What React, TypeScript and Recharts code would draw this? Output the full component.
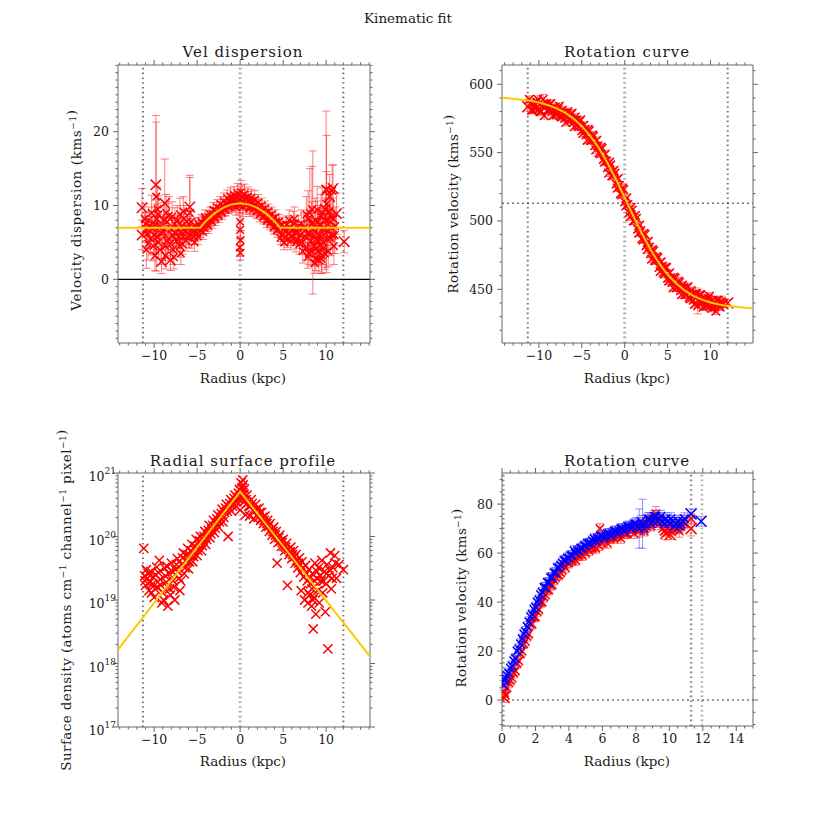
import React from "react";
import { ScatterChart, Scatter, XAxis, YAxis, ErrorBar, ReferenceLine } from "recharts";

const FONT = "'DejaVu Serif', serif";
const AXIS = "#666";
const TEXT = "#1a1a1a";
const RED = "#ff0000";
const RED_ERR = "#ff2a2a";
const BLUE = "#0000ff";
const BLUE_ERR = "#3a3aff";
const GOLD = "#ffc800";

// ---------- Panel 1: velocity dispersion [radius, sigma, err] ----------
const dispPoints = [
  [-11.0,7.5,1.5],[-10.9,4.0,2.5],[-10.8,6.2,2.0],[-10.6,8.0,1.8],[-10.4,5.5,2.2],[-10.2,7.0,1.5],[-10.0,6.0,2.5],[-9.9,3.2,2.0],[-9.75,11.2,10.1],[-9.7,8.2,2.0],
  [-9.6,9.5,3.0],[-9.5,5.0,2.2],[-9.3,7.2,1.6],[-9.0,6.5,2.0],[-8.7,4.5,2.0],[-8.6,9.0,2.5],[-8.5,7.8,2.5],[-8.3,5.5,1.8],[-8.0,6.8,1.5],[-7.9,8.5,2.0],
  [-7.8,4.0,2.0],[-7.6,7.5,2.2],[-7.4,5.2,1.5],[-7.2,6.8,1.8],[-7.0,4.5,1.5],[-7.0,8.8,2.2],[-6.9,3.5,1.5],[-6.8,7.2,1.6],[-6.6,5.8,1.4],[-6.6,9.2,2.0],
  [-6.4,6.5,1.2],[-6.2,7.8,1.5],[-6.0,5.6,1.3],[-5.85,9.0,4.8],[-5.6,6.8,1.2],[-5.4,5.8,1.0],[-5.2,7.2,1.1],[-5.0,6.2,1.0],[-4.8,7.4,1.0],[-4.6,6.6,0.9],
  [-4.4,7.6,1.0],[-4.2,7.0,0.8],[-4.0,8.0,0.9],[-3.8,7.4,0.9],[-3.6,8.4,0.9],[-3.4,8.0,0.8],[-3.2,8.8,0.9],[-3.0,8.4,0.8],[-2.8,9.2,0.9],[-2.6,8.8,0.8],
  [-2.4,9.6,0.9],[-2.2,9.2,0.8],[-2.0,9.9,0.9],[-1.8,9.4,0.8],[-1.6,10.3,0.9],[-1.4,9.8,0.8],[-1.2,10.6,1.0],[-1.0,10.0,0.9],[-0.8,10.8,1.0],[-0.6,10.2,0.9],
  [-0.4,11.0,1.2],[-0.2,10.4,1.0],[0.0,7.8,1.2],[0.0,6.7,1.2],[0.05,5.3,1.3],[-0.05,4.3,1.2],[0.02,3.6,1.0],[0.0,10.8,1.8],[0.2,11.2,1.6],[0.4,10.5,1.2],
  [0.6,10.9,1.3],[0.8,10.2,1.1],[1.0,10.7,1.2],[1.2,9.9,1.0],[1.4,10.4,1.1],[1.6,9.6,1.0],[1.8,10.1,1.0],[2.0,9.3,0.9],[2.2,9.8,1.0],[2.4,9.0,0.9],
  [2.6,9.4,0.9],[2.8,8.6,0.9],[3.0,9.0,0.9],[3.2,8.2,0.8],[3.4,8.6,0.9],[3.6,7.8,0.8],[3.8,8.2,0.9],[4.0,7.2,0.8],[4.2,7.8,0.9],[4.4,6.8,0.8],
  [4.6,7.2,0.9],[4.8,6.0,0.9],[5.0,6.8,1.0],[5.2,5.6,1.0],[5.4,7.4,1.2],[5.6,6.2,1.1],[5.8,7.0,1.4],[6.0,5.8,1.2],[6.2,7.6,1.6],[6.4,6.4,1.3],
  [6.6,5.4,1.2],[6.8,7.2,1.5],[7.0,6.0,1.4],[7.2,5.0,1.5],[7.4,7.0,2.0],[7.6,4.2,1.6],[7.8,6.2,2.0],[7.9,8.2,3.8],[8.0,3.5,1.5],[8.1,9.0,6.0],
  [8.2,5.2,2.2],[8.3,7.5,3.0],[8.45,7.7,9.7],[8.6,4.5,2.0],[8.7,6.5,2.5],[8.8,2.8,1.6],[8.9,5.5,2.4],[9.0,7.8,2.8],[9.1,3.8,2.0],[9.2,6.0,2.2],
  [9.3,4.6,2.5],[9.4,8.5,3.0],[9.5,3.2,2.4],[9.6,6.8,2.6],[9.7,5.0,2.0],[10.0,12.2,10.6],[10.05,10.2,9.3],[10.1,5.5,2.0],[10.2,8.0,2.8],[10.6,7.0,2.4],
  [10.7,12.0,3.5],[10.9,4.5,2.5],[11.0,6.0,2.5],
];
const dispPoints2 = [
  [-11.1,8.2,2.0],[-10.9,6.8,1.8],[-10.7,4.8,2.2],[-10.5,7.2,2.0],[-10.3,9.0,2.4],[-10.1,4.5,2.0],[-9.9,7.5,2.2],[-9.7,5.8,1.8],[-9.5,8.8,2.5],[-9.3,4.0,2.0],
  [-9.1,6.2,2.2],[-8.9,8.0,2.4],[-8.7,3.2,1.8],[-8.5,5.2,2.0],[-8.3,8.6,2.6],[-8.1,4.8,1.8],[-7.9,6.0,2.0],[-7.7,3.0,1.6],[-7.5,6.2,1.8],[-7.3,8.0,2.0],
  [-7.1,5.8,1.6],[-6.9,6.4,1.8],[-6.7,4.8,1.4],[-6.5,8.2,1.8],[-6.3,5.2,1.4],[-6.1,7.0,1.5],[-5.9,6.0,1.3],[-5.7,7.8,1.4],[-5.5,6.4,1.2],[-5.3,5.0,1.2],
  [-5.1,6.8,1.1],[-4.9,5.8,1.1],[-4.7,7.0,1.0],[-4.5,7.8,1.0],[-4.3,6.4,1.0],[-4.1,8.4,1.0],[-3.9,7.6,0.9],[-3.7,7.2,1.0],[-3.5,8.8,1.0],[-3.3,7.8,0.9],
  [-3.1,9.4,1.0],[-2.9,8.2,0.9],[-2.7,9.8,1.0],[-2.5,8.6,0.9],[-2.3,10.2,1.0],[-2.1,9.0,0.9],[-1.9,10.6,1.1],[-1.7,9.6,1.0],[-1.5,11.0,1.1],[-1.3,9.9,1.0],
  [-1.1,11.2,1.2],[-0.9,10.2,1.0],[-0.7,11.4,1.2],[-0.5,9.8,1.1],[-0.3,11.6,1.4],[-0.1,10.0,1.3],[0.1,11.8,1.6],[0.3,9.8,1.3],[0.5,11.5,1.4],[0.7,10.0,1.2],
  [0.9,11.2,1.3],[1.1,9.6,1.1],[1.3,11.0,1.2],[1.5,9.9,1.1],[1.7,10.8,1.2],[1.9,9.2,1.0],[2.1,10.4,1.1],[2.3,8.8,1.0],[2.5,10.0,1.0],[2.7,8.4,0.9],
  [2.9,9.6,1.0],[3.1,7.9,0.9],[3.3,9.2,1.0],[3.5,7.6,0.9],[3.7,8.8,1.0],[3.9,7.0,0.9],[4.1,8.4,1.0],[4.3,6.6,0.9],[4.5,7.8,1.0],[4.7,5.6,0.9],
  [4.9,7.4,1.0],[5.1,5.0,1.0],[5.3,6.6,1.1],[5.5,5.4,1.1],[5.7,8.0,1.4],[5.9,5.2,1.2],[6.1,6.6,1.4],[6.3,8.2,1.6],[6.5,5.0,1.3],[6.7,6.4,1.4],
  [6.9,4.8,1.4],[7.1,7.6,1.8],[7.3,3.8,1.6],[7.5,5.8,1.8],[7.7,8.8,2.4],[7.85,3.0,1.5],[8.05,6.2,2.2],[8.25,3.8,2.0],[8.35,9.5,5.8],[8.55,5.8,2.4],
  [8.65,2.2,1.4],[8.75,8.0,3.0],[8.85,4.2,2.2],[8.95,9.4,3.2],[9.05,5.2,2.4],[9.15,2.6,1.6],[9.25,7.4,2.6],[9.35,5.8,2.4],[9.45,2.8,2.0],[9.55,9.0,3.4],
  [9.65,4.2,2.2],[9.75,7.0,2.6],[9.85,3.5,2.2],[9.95,8.0,3.0],[10.15,6.5,2.4],[10.25,3.8,2.0],[10.35,9.2,3.0],[10.45,5.6,2.4],[10.55,8.5,3.2],[10.75,6.0,2.5],
  [10.85,8.2,2.8],[11.05,7.2,2.6],
];
const dispOutliers = [
  [-11.4,9.7,2.6],[-11.4,6.0,2.0],[-9.8,12.8,9.4],[-9.14,2.4,1.6],[-8.1,2.6,1.4],[-8.76,10.3,6.0],[-5.85,9.8,4.3],
  [10.05,12.1,2.5],[10.8,12.3,3.2],[10.4,11.2,3.0],[11.2,8.9,2.8],[12.1,5.1,1.5],[9.9,9.5,3.0],
];
const dispFitX = [-14.2, -4.65, -4, -3, -2, -1, 0, 1, 2, 3, 4, 4.65, 15.1];
const dispFitY = [7.0, 7.0, 7.86, 8.93, 9.69, 10.15, 10.3, 10.15, 9.69, 8.93, 7.86, 7.0, 7.0];
const dispMarks = [-11.3, 12.0];
const centreMark = [0];

// ---------- Panel 2: rotation curve (both sides) [radius, v, err] ----------
const rotPoints = [
  [-11.0,586,2.5],[-10.75,581,2.5],[-10.5,584,2.5],[-10.25,587,2.5],[-10.0,582,2.5],[-9.75,580,2.5],[-9.5,589,3.5],[-9.25,584,2.5],[-9.0,581,2.5],[-8.75,585,2.5],
  [-8.5,580,2.5],[-8.25,583,2.5],[-8.0,578,2.5],[-7.75,582,2.5],[-7.5,577,2.5],[-7.25,581,2.5],[-7.0,575,2.5],[-6.75,579,2.5],[-6.5,574,2.5],[-6.25,578,2.5],
  [-6.0,572,2.5],[-5.75,576,2.5],[-5.5,570,2.5],[-5.25,573,2.5],[-5.0,566,2.5],[-4.75,570,2.5],[-4.5,563,2.5],[-4.25,567,2.5],[-4.0,559,2.5],[-3.75,563,2.5],
  [-3.5,555,2.5],[-3.25,559,2.5],[-3.0,550,2.5],[-2.75,554,2.5],[-2.5,545,2.5],[-2.25,549,2.5],[-2.0,539,2.5],[-1.75,543,2.5],[-1.5,533,2.5],[-1.25,537,2.5],
  [-1.0,527,2.5],[-0.75,531,2.5],[-0.5,520,2.5],[-0.25,524,2.5],[0.0,514,2.5],[0.25,517,2.5],[0.5,506,2.5],[0.75,510,2.5],[1.0,500,2.5],[1.25,504,2.5],
  [1.5,494,2.5],[1.75,497,2.5],[2.0,487,2.5],[2.25,491,2.5],[2.5,482,2.5],[2.75,485,2.5],[3.0,476,2.5],[3.25,479,2.5],[3.5,471,2.5],[3.75,474,2.5],
  [4.0,466,2.5],[4.25,470,2.5],[4.5,462,2.5],[4.75,466,2.5],[5.0,458,2.5],[5.25,462,2.5],[5.5,455,2.5],[5.75,459,2.5],[6.0,451,2.5],[6.25,456,2.5],
  [6.5,449,2.5],[6.75,453,2.5],[7.0,446,2.5],[7.25,451,2.5],[7.5,444,2.5],[7.75,449,2.5],[8.0,442,2.5],[8.25,447,4.0],[8.5,438,6.0],[8.75,446,2.5],
  [9.0,440,2.5],[9.25,444,2.5],[9.5,438,2.5],[9.75,443,2.5],[10.0,438,2.5],[10.25,442,2.5],[10.5,437,2.5],[10.75,442,2.5],[11.0,438,2.5],[11.25,441,4.0],
  [11.5,439,2.5],
];
const rotPoints2 = [
  [-11.125,589,2.5],[-10.875,581,2.5],[-10.625,586,2.5],[-10.375,582,2.5],[-10.125,589,2.5],[-9.875,580,2.5],[-9.625,584,2.5],[-9.375,577,2.5],[-9.125,586,2.5],[-8.875,581,2.5],
  [-8.625,586,2.5],[-8.375,577,2.5],[-8.125,583,2.5],[-7.875,578,2.5],[-7.625,584,2.5],[-7.375,576,2.5],[-7.125,579,2.5],[-6.875,572,2.5],[-6.625,580,2.5],[-6.375,574,2.5],
  [-6.125,579,2.5],[-5.875,569,2.5],[-5.625,574,2.5],[-5.375,569,2.5],[-5.125,574,2.5],[-4.875,564,2.5],[-4.625,567,2.5],[-4.375,559,2.5],[-4.125,566,2.5],[-3.875,559,2.5],
  [-3.625,562,2.5],[-3.375,552,2.5],[-3.125,555,2.5],[-2.875,549,2.5],[-2.625,553,2.5],[-2.375,543,2.5],[-2.125,544,2.5],[-1.875,535,2.5],[-1.625,541,2.5],[-1.375,533,2.5],
  [-1.125,535,2.5],[-0.875,524,2.5],[-0.625,526,2.5],[-0.375,519,2.5],[-0.125,523,2.5],[0.125,511,2.5],[0.375,512,2.5],[0.625,503,2.5],[0.875,508,2.5],[1.125,500,2.5],
  [1.375,502,2.5],[1.625,491,2.5],[1.875,493,2.5],[2.125,486,2.5],[2.375,490,2.5],[2.625,479,2.5],[2.875,481,2.5],[3.125,472,2.5],[3.375,478,2.5],[3.625,471,2.5],
  [3.875,473,2.5],[4.125,463,2.5],[4.375,467,2.5],[4.625,461,2.5],[4.875,466,2.5],[5.125,456,2.5],[5.375,458,2.5],[5.625,451,2.5],[5.875,458,2.5],[6.125,452,2.5],
  [6.375,455,2.5],[6.625,446,2.5],[6.875,451,2.5],[7.125,446,2.5],[7.375,452,2.5],[7.625,443,2.5],[7.875,446,2.5],[8.125,439,2.5],[8.375,447,2.5],[8.625,441,2.5],
  [8.875,446,2.5],[9.125,437,2.5],[9.375,443,2.5],[9.625,438,2.5],[9.875,445,2.5],[10.125,436,2.5],[10.375,440,2.5],[10.625,434,2.5],[10.875,442,2.5],[11.125,437,2.5],
  [11.375,440,2.5],
];
const rotOutliers = [[-11.3,583.5,3.0],[12.0,440,2.5]];
const rotFitX = [-14.3,-12,-11,-10,-9,-8,-7,-6,-5,-4,-3,-2,-1,0,0.3,1,2,3,4,5,6,7,8,9,10,11,12,14.95];
const rotFitY = [590.2,588.7,587.9,586.6,584.9,582.6,579.4,575.1,569.4,562.1,553.2,542.4,530.2,517.0,513.0,503.6,490.8,479.1,469.1,460.7,454.2,449.1,445.2,442.4,440.3,438.8,437.7,435.9];
const rotSystemic = [513];
const rotMarks = [-11.3, 12.0];

// ---------- Panel 3: radial surface profile [radius, density] ----------
const surfPoints = [
  [-11.2,6.5e19],[-11.1,2.4e19],[-11.0,1.7e19],[-10.8,2.2e19],[-10.6,1.4e19],[-10.4,2.8e19],[-10.2,1.8e19],[-10.0,1.1e19],[-9.8,2.5e19],[-9.6,1.6e19],
  [-9.4,4.2e19],[-9.3,2.1e19],[-9.1,9e18],[-9.0,1.3e19],[-8.8,3.2e19],[-8.6,1.9e19],[-8.4,8e18],[-8.3,2.6e19],[-8.1,1.2e19],[-8.0,3.8e19],
  [-7.8,2.0e19],[-7.6,1.0e19],[-7.5,3.0e19],[-7.3,4.5e19],[-7.1,2.2e19],[-7.0,1.4e19],[-6.8,3.6e19],[-6.6,5.5e19],[-6.5,2.6e19],[-6.3,4.2e19],
  [-6.1,6.5e19],[-6.0,3.1e19],[-5.8,5.0e19],[-5.6,7.5e19],[-5.5,4.0e19],[-5.3,6.2e19],[-5.1,9.0e19],[-5.0,5.0e19],[-4.8,7.2e19],[-4.6,1.0e20],
  [-4.5,6.0e19],[-4.3,8.8e19],[-4.1,1.2e20],[-4.0,7.5e19],[-3.8,1.05e20],[-3.6,1.5e20],[-3.5,9.5e19],[-3.3,1.3e20],[-3.1,1.8e20],[-3.0,1.15e20],
  [-2.8,1.6e20],[-2.6,2.2e20],[-2.5,1.4e20],[-2.3,2.0e20],[-2.1,2.7e20],[-2.0,1.7e20],[-1.8,2.4e20],[-1.6,3.2e20],[-1.4,1.0e20],[-1.3,2.9e20],
  [-1.1,3.8e20],[-1.0,2.5e20],[-0.8,3.4e20],[-0.6,4.5e20],[-0.5,3.0e20],[-0.3,4.0e20],[-0.1,5.5e20],[0.0,2.6e20],[0.1,7.0e20],[0.3,7.8e20],
  [0.4,3.5e20],[0.5,5.6e20],[0.6,2.2e20],[0.8,4.5e20],[1.0,3.0e20],[1.1,2.1e20],[1.3,3.8e20],[1.5,2.6e20],[1.6,1.9e20],[1.8,3.2e20],
  [2.0,2.2e20],[2.2,2.8e20],[2.4,1.8e20],[2.5,2.4e20],[2.7,1.6e20],[2.9,2.1e20],[3.0,1.4e20],[3.2,1.8e20],[3.4,1.2e20],[3.5,1.6e20],
  [3.7,1.05e20],[3.9,1.4e20],[4.0,9.0e19],[4.2,1.2e20],[4.3,3.8e19],[4.4,8.0e19],[4.6,1.05e20],[4.8,7.0e19],[5.0,9.0e19],[5.2,6.0e19],
  [5.4,7.8e19],[5.5,1.7e19],[5.7,5.2e19],[5.9,6.8e19],[6.0,4.5e19],[6.2,6.0e19],[6.4,3.8e19],[6.5,5.2e19],[6.7,3.2e19],[6.9,4.6e19],
  [7.0,2.7e19],[7.1,1.4e19],[7.2,4.0e19],[7.4,2.3e19],[7.5,1.0e19],[7.6,3.5e19],[7.8,2.0e19],[7.9,9e18],[8.0,3.0e19],[8.1,1.2e19],
  [8.2,1.8e19],[8.3,8e18],[8.4,2.6e19],[8.5,3.5e18],[8.6,1.1e19],[8.7,3.8e19],[8.8,6e18],[8.9,2.2e19],[9.0,1.4e19],[9.1,3.2e19],
  [9.2,9e18],[9.4,2.0e19],[9.5,4.2e19],[9.6,1.3e19],[9.8,2.8e19],[9.9,6.5e18],[10.0,1.8e19],[10.1,3.6e19],[10.2,1.7e18],[10.3,2.4e19],
  [10.5,5.5e19],[10.6,1.5e19],[10.8,3.2e19],[11.0,5.0e19],[11.2,2.2e19],[11.5,3.6e19],[12.0,3.0e19],
];
const surfPoints2 = [
  [-11.05,2.0e19],[-10.9,3.0e19],[-10.7,2.6e19],[-10.5,1.9e19],[-10.3,1.3e19],[-10.1,2.3e19],[-9.9,1.5e19],[-9.7,3.3e19],[-9.5,2.7e19],[-9.2,1.7e19],
  [-8.9,1.0e19],[-8.7,2.4e19],[-8.5,3.4e19],[-8.2,1.5e19],[-7.9,2.8e19],[-7.7,1.6e19],[-7.4,3.6e19],[-7.2,2.8e19],[-6.9,2.0e19],[-6.7,4.6e19],
  [-6.4,3.2e19],[-6.2,5.2e19],[-5.9,4.0e19],[-5.7,6.0e19],[-5.4,4.8e19],[-5.2,7.0e19],[-4.9,6.0e19],[-4.7,8.5e19],[-4.4,7.2e19],[-4.2,1.0e20],
  [-3.9,9.0e19],[-3.7,1.25e20],[-3.4,1.1e20],[-3.2,1.5e20],[-2.9,1.35e20],[-2.7,1.9e20],[-2.4,1.7e20],[-2.2,2.3e20],[-1.9,2.0e20],[-1.7,2.8e20],
  [-1.5,2.5e20],[-1.2,3.3e20],[-0.9,3.0e20],[-0.7,4.0e20],[-0.4,3.5e20],[-0.2,4.8e20],[0.05,4.2e20],[0.2,5.8e20],[0.35,6.5e20],[0.45,4.6e20],
  [0.7,3.8e20],[0.9,3.4e20],[1.2,3.0e20],[1.4,3.3e20],[1.7,2.5e20],[1.9,2.7e20],[2.1,2.0e20],[2.3,2.4e20],[2.6,2.0e20],[2.8,1.8e20],
  [3.1,1.6e20],[3.3,1.45e20],[3.6,1.3e20],[3.8,1.2e20],[4.1,1.05e20],[4.5,9.5e19],[4.7,8.5e19],[4.9,8.0e19],[5.1,7.0e19],[5.3,6.8e19],
  [5.6,6.2e19],[5.8,5.8e19],[6.1,5.2e19],[6.3,4.8e19],[6.6,4.2e19],[6.8,3.8e19],[7.3,3.2e19],[7.7,2.6e19],[8.05,2.2e19],[8.35,1.5e19],
  [8.65,2.0e19],[8.95,2.8e19],[9.3,2.4e19],[9.7,2.0e19],[10.05,2.6e19],[10.4,3.0e19],[10.7,2.2e19],[11.1,3.8e19],[7.9,1.3e19],[8.45,1.0e19],
];
const surfFitX = [-14.2, 0, 15.1];
const surfFitY = [1.65e18, 5.1e20, 1.3e18];
const surfMarks = [-11.3, 12.0];

// ---------- Panel 4: folded rotation curve [radius, v, err] ----------
const recPoints = [
  [0.15,3,2],[0.3,5,2],[0.5,8,2],[0.7,11,2],[0.9,15,2],[1.1,19,2],[1.3,23,2],[1.5,26,2],[1.7,31,2],[1.9,34,2],
  [2.1,36,2],[2.3,40,2],[2.5,42,2],[2.7,45,2],[2.9,47,2],[3.1,49,2],[3.3,51,2],[3.5,52,2],[3.7,55,2],[3.9,56,2],
  [4.1,57,2],[4.3,58,2],[4.5,59,2],[4.7,60,2],[4.9,61,2],[5.1,62,2],[5.3,62,2],[5.5,63,2],[5.7,65,2],[5.85,70,2],
  [6.0,64,2],[6.2,66,2],[6.4,66,2],[6.6,67,2],[6.8,67,2],[7.0,68,2],[7.2,69,2],[7.4,68,2],[7.6,70,2],[7.8,70,2],
  [8.0,71,2],[8.2,69,2.5],[8.4,72,2.5],[8.6,71,2.5],[8.8,73,2.5],[9.0,74,2.5],[9.2,76,3],[9.4,72,2.5],[9.6,70,2.5],[10.2,70,2.5],
  [10.4,72,2.5],[10.6,69,2.5],[10.8,73,2.5],[11.3,74,2],
];
const recPoints2 = [
  [0.2,2,2],[0.4,7,2],[0.6,9,2],[0.8,12,2],[1.0,16,2],[1.2,20,2],[1.4,24,2],[1.6,27,2],[1.8,31,2],[2.0,34,2],
  [2.2,37,2],[2.4,40,2],[2.6,43,2],[2.8,45,2],[3.0,47,2],[3.2,50,2],[3.4,51,2],[3.6,53,2],[3.8,54,2],[4.0,56,2],
  [4.2,57,2],[4.4,57,2],[4.6,59,2],[4.8,59,2],[5.0,60,2],[5.2,61,2],[5.4,62,2],[5.6,62,2],[5.8,63,2],[6.1,65,2],
  [6.3,64,2],[6.5,66,2],[6.7,66,2],[6.9,67,2],[7.1,66,2],[7.3,68,2],[7.5,68,2],[7.7,69,2],[7.9,68,2],[8.1,70,2],
  [8.3,70,2],[8.5,69,2],[8.7,72,2],[8.9,71,2],[9.1,73,2],[9.3,74,2],[9.5,73,2],[9.7,69,2],[9.9,70,2],[10.1,69,2],
  [10.3,71,2],[10.5,70,2],[10.7,71,2],[10.9,72,2],
];
const recOutliers = [[0.12,1,2],[9.8,68,2.5],[10.05,67.5,2],[11.3,70,3]];
const appPoints = [
  [0.1,6,2],[0.2,9,2],[0.4,11,2],[0.6,14,2],[0.8,17,2],[1.0,21,2],[1.2,25,2],[1.4,28,2],[1.6,32,2],[1.8,35,2],
  [2.0,38,2],[2.2,41,2],[2.4,44,2],[2.6,46,2],[2.8,48,2],[3.0,50,2],[3.2,52,2],[3.4,54,2],[3.6,56,2],[3.8,57,2],
  [4.0,58,2],[4.2,59,2],[4.4,60,2],[4.6,61,2],[4.8,62,2],[5.0,63,2],[5.2,64,2],[5.4,65,2],[5.6,65,2],[5.8,66,2],
  [6.0,67,2],[6.2,67,2],[6.4,68,2],[6.6,68,2],[6.8,69,2],[7.0,69,2],[7.2,70,2],[7.4,70,2],[7.6,71,2],[7.8,71,2],
  [8.0,72,2.5],[8.2,70,8],[8.4,72,10],[8.6,72,2.5],[8.8,74,2.5],[9.0,73,2.5],[9.2,75,2.5],[9.4,74,2.5],[9.6,73,2.5],[9.8,74,2.5],
  [10.0,72,2.5],[10.2,73,2.5],[10.4,72,2.5],[10.6,71,2.5],[10.8,73,2.5],
];
const appPoints2 = [
  [0.15,8,2],[0.3,10,2],[0.5,13,2],[0.7,16,2],[0.9,20,2],[1.1,23,2],[1.3,27,2],[1.5,30,2],[1.7,34,2],[1.9,37,2],
  [2.1,40,2],[2.3,43,2],[2.5,46,2],[2.7,48,2],[2.9,50,2],[3.1,52,2],[3.3,54,2],[3.5,55,2],[3.7,57,2],[3.9,58,2],
  [4.1,59,2],[4.3,61,2],[4.5,61,2],[4.7,62,2],[4.9,63,2],[5.1,64,2],[5.3,64,2],[5.5,66,2],[5.7,66,2],[5.9,67,2],
  [6.1,66,2],[6.3,68,2],[6.5,67,2],[6.7,69,2],[6.9,68,2],[7.1,70,2],[7.3,69,2],[7.5,71,2],[7.7,70,2],[7.9,72,2],
  [8.1,71,2.5],[8.3,73,2.5],[8.5,70,2.5],[8.7,74,2.5],[8.9,72,2.5],[9.1,75,2.5],[9.3,73,2.5],[9.5,75,2.5],[9.7,72,2.5],[9.9,73,2.5],
  [10.1,74,2.5],[10.3,71,2.5],[10.5,73,2.5],[10.7,72,2.5],[10.9,74,2.5],
];
const appOutliers = [[11.3,76,2],[11.9,73,2]];
const foldMarksDark = [0.08, 11.3];
const foldMarksLight = [11.95];

// ---------- tick labels ----------
const radiusMajor = [-10, -5, 0, 5, 10];
const dispMajor = [0, 10, 20];
const rotMajor = [450, 500, 550, 600];
const surfMajor = [1e17, 1e18, 1e19, 1e20, 1e21];
const foldXMajor = [0, 2, 4, 6, 8, 10, 12, 14];
const foldYMajor = [0, 20, 40, 60, 80];

const steps = (a: number, b: number, s: number) => {
  const out: number[] = [];
  for (let v = a; v <= b + 1e-9; v += s) out.push(Math.round(v * 1000) / 1000);
  return out;
};
const logMinor = (() => {
  const out: number[] = [];
  for (let n = 17; n <= 20; n++) for (let k = 1; k <= 9; k++) out.push(k * Math.pow(10, n));
  out.push(1e21);
  return out;
})();

const toXY = (pts: number[][]) => pts.map((p) => ({ x: p[0], y: p[1], e: p[2] }));
const toLine = (xs: number[], ys: number[]) => xs.map((x, i) => ({ x, y: ys[i] }));

const fmt = (v: number) => (v < 0 ? "\u2212" + Math.abs(v) : String(v));
const fmtLog = (v: number) => (
  <>
    10<tspan dy={-7} fontSize={9}>{Math.round(Math.log10(v))}</tspan>
  </>
);

type Side = "bottom" | "top" | "left" | "right";
const isMajor = (v: number, majors: number[]) =>
  majors.some((m) => Math.abs(m - v) <= Math.abs(m) * 1e-6 + 1e-9);

function tickRenderer(side: Side, majors: number[], label?: (v: number) => React.ReactNode, logLabel = false) {
  return (p: any) => {
    const { x, y, payload } = p;
    const v = payload.value;
    const maj = isMajor(v, majors);
    const len = maj ? 5 : 2.5;
    let l = { x1: x, y1: y, x2: x, y2: y };
    let t: React.ReactNode = null;
    const tp = { fontFamily: FONT, fontSize: 12.5, fill: TEXT };
    if (side === "bottom") {
      l = { x1: x, y1: y, x2: x, y2: y + len };
      if (maj && label) t = <text {...tp} x={x} y={y + 17} textAnchor="middle">{label(v)}</text>;
    } else if (side === "top") {
      l = { x1: x, y1: y, x2: x, y2: y - len };
    } else if (side === "left") {
      l = { x1: x - len, y1: y, x2: x, y2: y };
      if (maj && label)
        t = logLabel ? (
          <text {...tp} x={x - 2} y={y + 8} textAnchor="end">{label(v)}</text>
        ) : (
          <text {...tp} x={x - 9} y={y + 4.5} textAnchor="end">{label(v)}</text>
        );
    } else {
      l = { x1: x, y1: y, x2: x + len, y2: y };
    }
    return (
      <g>
        <line {...l} stroke={AXIS} strokeWidth={1} />
        {t}
      </g>
    );
  };
}

const Cross = (s: number, color: string, w = 1.5) => (p: any) => {
  const { cx, cy } = p;
  if (cx == null || cy == null) return <g />;
  return (
    <path
      d={`M${cx - s},${cy - s}L${cx + s},${cy + s}M${cx - s},${cy + s}L${cx + s},${cy - s}`}
      stroke={color}
      strokeWidth={w}
      fill="none"
    />
  );
};
const NoShape = () => <g />;

type PanelProps = {
  plot: [number, number, number, number];
  xDomain: [number, number];
  yDomain: [number, number];
  xTicks: number[];
  xMajor: number[];
  yTicks: number[];
  yMajor: number[];
  yLog?: boolean;
  children: React.ReactNode;
};

function Panel({ plot, xDomain, yDomain, xTicks, xMajor, yTicks, yMajor, yLog, children }: PanelProps) {
  const [pl, pt, pw, ph] = plot;
  const padL = 75, padR = 25, padT = 25, padB = 30;
  const yScale = yLog ? "log" : "linear";
  return (
    <div style={{ position: "absolute", left: pl - padL, top: pt - padT }}>
      <ScatterChart
        width={pw + padL + padR}
        height={ph + padT + padB}
        margin={{ left: padL - 10, right: padR - 10, top: padT - 10, bottom: padB - 10 }}
      >
        <XAxis xAxisId="b" type="number" dataKey="x" domain={xDomain} allowDataOverflow ticks={xTicks} interval={0}
          tickSize={0} tickMargin={0} height={10} stroke={AXIS} tick={tickRenderer("bottom", xMajor, fmt)} />
        <XAxis xAxisId="t" orientation="top" type="number" dataKey="x" domain={xDomain} allowDataOverflow ticks={xTicks} interval={0}
          tickSize={0} tickMargin={0} height={10} stroke={AXIS} tick={tickRenderer("top", xMajor)} />
        <YAxis yAxisId="l" type="number" dataKey="y" scale={yScale as any} domain={yDomain} allowDataOverflow ticks={yTicks} interval={0}
          tickSize={0} tickMargin={0} width={10} stroke={AXIS} tick={tickRenderer("left", yMajor, yLog ? fmtLog : fmt, !!yLog)} />
        <YAxis yAxisId="r" orientation="right" type="number" dataKey="y" scale={yScale as any} domain={yDomain} allowDataOverflow ticks={yTicks} interval={0}
          tickSize={0} tickMargin={0} width={10} stroke={AXIS} tick={tickRenderer("right", yMajor)} />
        {children}
      </ScatterChart>
    </div>
  );
}

const vline = (x: number, key: string, color: string, w: number) => (
  <ReferenceLine key={key} x={x} xAxisId="b" yAxisId="l" stroke={color} strokeWidth={w} strokeDasharray="1.6 3.2" />
);

const errRed = (
  <ErrorBar dataKey="e" direction="y" width={4} stroke={RED_ERR} strokeOpacity={0.6} strokeWidth={1} isAnimationActive={false} />
);
const errBlue = (
  <ErrorBar dataKey="e" direction="y" width={4} stroke={BLUE_ERR} strokeOpacity={0.55} strokeWidth={1} isAnimationActive={false} />
);

const P1: [number, number, number, number] = [118, 65, 252, 278];
const P2: [number, number, number, number] = [502, 65, 251, 278];
const P3: [number, number, number, number] = [118, 473, 252, 254];
const P4: [number, number, number, number] = [502, 473, 251, 253];

export default function App() {
  const sup = (s: string) => (
    <tspan dy={-5} fontSize={9}>{s}</tspan>
  );
  const back = <tspan dy={5}></tspan>;
  const ltext = { fontFamily: FONT, fontSize: 13.5, fill: TEXT };
  return (
    <div style={{ position: "absolute", left: 0, top: 0, width: 817, height: 817, background: "#fff", overflow: "hidden" }}>
      <Panel plot={P1} xDomain={[-14.2, 15.1]} yDomain={[-8.63, 29.04]} xTicks={steps(-14, 15, 1)} xMajor={radiusMajor}
        yTicks={steps(-8, 29, 1)} yMajor={dispMajor}>
        {dispMarks.map((m, i) => vline(m, "d" + i, "#777", 2))}
        {centreMark.map((m, i) => vline(m, "c" + i, "#aaa", 3))}
        <ReferenceLine y={0} xAxisId="b" yAxisId="l" stroke="#000" strokeWidth={1.3} />
        <Scatter xAxisId="b" yAxisId="l" data={toXY(dispPoints)} isAnimationActive={false} shape={Cross(3.8, RED)}>
          {errRed}
        </Scatter>
        <Scatter xAxisId="b" yAxisId="l" data={toXY(dispPoints2)} isAnimationActive={false} shape={Cross(3.8, RED)}>
          {errRed}
        </Scatter>
        <Scatter xAxisId="b" yAxisId="l" data={toXY(dispOutliers)} isAnimationActive={false} shape={Cross(5.2, RED)}>
          {errRed}
        </Scatter>
        <Scatter xAxisId="b" yAxisId="l" data={toLine(dispFitX, dispFitY)} isAnimationActive={false} shape={NoShape}
          line={{ stroke: GOLD, strokeWidth: 2 }} />
      </Panel>

      <Panel plot={P2} xDomain={[-14.3, 14.95]} yDomain={[410.7, 614.1]} xTicks={steps(-14, 14, 1)} xMajor={radiusMajor}
        yTicks={steps(420, 610, 10)} yMajor={rotMajor}>
        {rotMarks.map((m, i) => vline(m, "r" + i, "#777", 2))}
        {centreMark.map((m, i) => vline(m, "rc" + i, "#aaa", 3))}
        {rotSystemic.map((v, i) => (
          <ReferenceLine key={"s" + i} y={v} xAxisId="b" yAxisId="l" stroke="#333" strokeWidth={1} strokeDasharray="2 3" />
        ))}
        <Scatter xAxisId="b" yAxisId="l" data={toXY(rotPoints)} isAnimationActive={false} shape={Cross(4.3, RED)}>
          {errRed}
        </Scatter>
        <Scatter xAxisId="b" yAxisId="l" data={toXY(rotPoints2)} isAnimationActive={false} shape={Cross(4.3, RED)}>
          {errRed}
        </Scatter>
        <Scatter xAxisId="b" yAxisId="l" data={toXY(rotOutliers)} isAnimationActive={false} shape={Cross(5.5, RED)}>
          {errRed}
        </Scatter>
        <Scatter xAxisId="b" yAxisId="l" data={toLine(rotFitX, rotFitY)} isAnimationActive={false} shape={NoShape}
          line={{ stroke: GOLD, strokeWidth: 2 }} />
      </Panel>

      <Panel plot={P3} xDomain={[-14.2, 15.1]} yDomain={[1e17, 1e21]} xTicks={steps(-14, 15, 1)} xMajor={radiusMajor}
        yTicks={logMinor} yMajor={surfMajor} yLog>
        {surfMarks.map((m, i) => vline(m, "s" + i, "#777", 2))}
        {centreMark.map((m, i) => vline(m, "sc" + i, "#aaa", 3))}
        <Scatter xAxisId="b" yAxisId="l" data={toXY(surfPoints)} isAnimationActive={false} shape={Cross(4.6, RED)} />
        <Scatter xAxisId="b" yAxisId="l" data={toXY(surfPoints2)} isAnimationActive={false} shape={Cross(4.6, RED)} />
        <Scatter xAxisId="b" yAxisId="l" data={toLine(surfFitX, surfFitY)} isAnimationActive={false} shape={NoShape}
          line={{ stroke: GOLD, strokeWidth: 2 }} />
      </Panel>

      <Panel plot={P4} xDomain={[0, 15]} yDomain={[-10.6, 92.7]} xTicks={steps(0, 15, 0.5)} xMajor={foldXMajor}
        yTicks={steps(-10, 90, 5)} yMajor={foldYMajor}>
        {foldMarksDark.map((m, i) => vline(m, "fd" + i, "#888", 2.5))}
        {foldMarksLight.map((m, i) => vline(m, "fl" + i, "#aaa", 2.5))}
        <ReferenceLine y={0} xAxisId="b" yAxisId="l" stroke="#333" strokeWidth={1} strokeDasharray="2 3" />
        <Scatter xAxisId="b" yAxisId="l" data={toXY(recPoints)} isAnimationActive={false} shape={Cross(4.2, RED)}>
          {errRed}
        </Scatter>
        <Scatter xAxisId="b" yAxisId="l" data={toXY(recPoints2)} isAnimationActive={false} shape={Cross(4.2, RED)}>
          {errRed}
        </Scatter>
        <Scatter xAxisId="b" yAxisId="l" data={toXY(recOutliers)} isAnimationActive={false} shape={Cross(5.5, RED)}>
          {errRed}
        </Scatter>
        <Scatter xAxisId="b" yAxisId="l" data={toXY(appPoints)} isAnimationActive={false} shape={Cross(4.2, BLUE)}>
          {errBlue}
        </Scatter>
        <Scatter xAxisId="b" yAxisId="l" data={toXY(appPoints2)} isAnimationActive={false} shape={Cross(4.2, BLUE)}>
          {errBlue}
        </Scatter>
        <Scatter xAxisId="b" yAxisId="l" data={toXY(appOutliers)} isAnimationActive={false} shape={Cross(5.5, BLUE)}>
          {errBlue}
        </Scatter>
      </Panel>

      <svg width={817} height={817} style={{ position: "absolute", left: 0, top: 0, pointerEvents: "none" }}>
        <text x={408} y={23} textAnchor="middle" {...ltext}>Kinematic fit</text>
        <text x={243} y={57} textAnchor="middle" {...ltext} fontSize={15} letterSpacing={1}>Vel dispersion</text>
        <text x={627} y={57} textAnchor="middle" {...ltext} fontSize={15} letterSpacing={1}>Rotation curve</text>
        <text x={243} y={466} textAnchor="middle" {...ltext} fontSize={15} letterSpacing={1}>Radial surface profile</text>
        <text x={627} y={466} textAnchor="middle" {...ltext} fontSize={15} letterSpacing={1}>Rotation curve</text>
        <text x={243} y={383} textAnchor="middle" {...ltext}>Radius (kpc)</text>
        <text x={627} y={383} textAnchor="middle" {...ltext}>Radius (kpc)</text>
        <text x={243} y={766} textAnchor="middle" {...ltext}>Radius (kpc)</text>
        <text x={627} y={766} textAnchor="middle" {...ltext}>Radius (kpc)</text>
        <text transform="translate(81,210) rotate(-90)" textAnchor="middle" {...ltext} letterSpacing={0.6}>
          Velocity dispersion (kms{sup("\u22121")}{back})
        </text>
        <text transform="translate(458,204) rotate(-90)" textAnchor="middle" {...ltext} letterSpacing={0.3}>
          Rotation velocity (kms{sup("\u22121")}{back})
        </text>
        <text transform="translate(71,600) rotate(-90)" textAnchor="middle" {...ltext} letterSpacing={0.4}>
          Surface density (atoms cm{sup("\u22121")}<tspan dy={5}> channel</tspan>{sup("\u22121")}<tspan dy={5}> pixel</tspan>{sup("\u22121")}{back})
        </text>
        <text transform="translate(466,598) rotate(-90)" textAnchor="middle" {...ltext} letterSpacing={0.3}>
          Rotation velocity (kms{sup("\u22121")}{back})
        </text>
      </svg>
    </div>
  );
}
